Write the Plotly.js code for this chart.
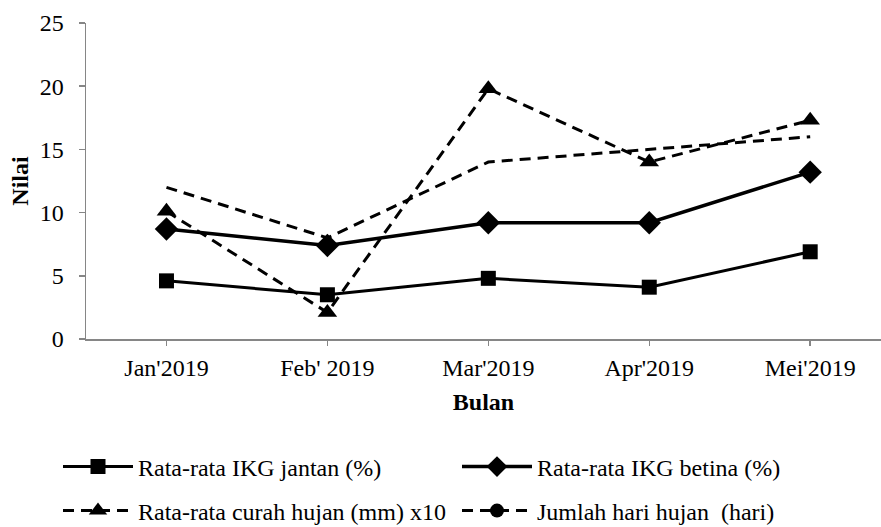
<!DOCTYPE html>
<html>
<head>
<meta charset="utf-8">
<script src="https://cdn.plot.ly/plotly-3.0.1.min.js"></script>
<style>html,body{margin:0;padding:0;background:#fff;}#chart{width:881px;height:527px;}</style>
</head>
<body>
<div id="chart"></div>
<script>
const months = ["Jan'2019", "Feb' 2019", "Mar'2019", "Apr'2019", "Mei'2019"];
const ikgJantan = [4.6, 3.5, 4.8, 4.1, 6.9];
const ikgBetina = [8.7, 7.4, 9.2, 9.2, 13.2];
const curahHujanX10 = [10.1, 2.1, 19.8, 14.0, 17.3];
const hariHujan = [12, 8, 14, 15, 16];
const yTicks = [0, 5, 10, 15, 20, 25];

const names = ["Rata-rata IKG jantan (%)", "Rata-rata IKG betina (%)",
  "Rata-rata curah hujan (mm) x10", "Jumlah hari hujan  (hari)"];

const FAMILY = "Liberation Serif";
const fs = 24;
function f(size) { return {family: FAMILY, size: size, color: "#000"}; }
const dashStyle = "11px,7px";

const traces = [
  {x: months, y: hariHujan, type: "scatter", mode: "lines", showlegend: false,
   line: {color: "#000", width: 3, dash: dashStyle}},
  {x: months, y: curahHujanX10, type: "scatter", mode: "lines+markers", name: names[2], legend: "legend3",
   line: {color: "#000", width: 3, dash: dashStyle},
   marker: {symbol: "triangle-up", size: 17, color: "#000"}},
  {x: [null], y: [null], type: "scatter", mode: "lines+markers", name: names[3], legend: "legend4",
   line: {color: "#000", width: 3, dash: dashStyle},
   marker: {symbol: "circle", size: 14, color: "#000"}},
  {x: months, y: ikgBetina, type: "scatter", mode: "lines+markers", name: names[1], legend: "legend2",
   line: {color: "#000", width: 3.5},
   marker: {symbol: "diamond", size: 18, color: "#000"}},
  {x: months, y: ikgJantan, type: "scatter", mode: "lines+markers", name: names[0], legend: "legend",
   line: {color: "#000", width: 3},
   marker: {symbol: "square", size: 15, color: "#000"}}
];

const IW = 70;
function leg(textX, ypx) {
  return {
    orientation: "h", xref: "container", yref: "container", xanchor: "left", yanchor: "middle",
    x: (textX - IW - 10) / 881, y: 1 - ypx / 527,
    font: f(fs), bgcolor: "rgba(0,0,0,0)",
    itemwidth: IW, itemclick: false, itemdoubleclick: false
  };
}

const layout = {
  width: 881, height: 527,
  margin: {l: 85.5, r: 0, t: 22.7, b: 187.5},
  paper_bgcolor: "#fff", plot_bgcolor: "#fff",
  font: f(fs),
  xaxis: {
    type: "category", range: [-0.5, 4.44], showgrid: false, zeroline: false,
    showline: true, linecolor: "#868686", linewidth: 1.5,
    ticks: "outside", ticklen: 5, tickcolor: "#868686", tickwidth: 1.5,
    ticklabelstandoff: 2,
    tickfont: f(fs),
    title: {text: "<b>Bulan</b>", font: f(fs), standoff: 13}
  },
  yaxis: {
    range: [0, 25], tickvals: yTicks, showgrid: false, zeroline: false,
    showline: true, linecolor: "#868686", linewidth: 1.5,
    ticks: "outside", ticklen: 6, tickcolor: "#868686", tickwidth: 1.5,
    ticklabelstandoff: 10,
    tickfont: f(fs),
    title: {text: "<b>Nilai</b>", font: f(fs), standoff: 4}
  },
  legend: leg(138, 467),
  legend2: leg(537, 467),
  legend3: leg(138, 511),
  legend4: leg(537, 511),
  showlegend: true
};

Plotly.newPlot("chart", traces, layout, {staticPlot: true, displayModeBar: false});
</script>
</body>
</html>
